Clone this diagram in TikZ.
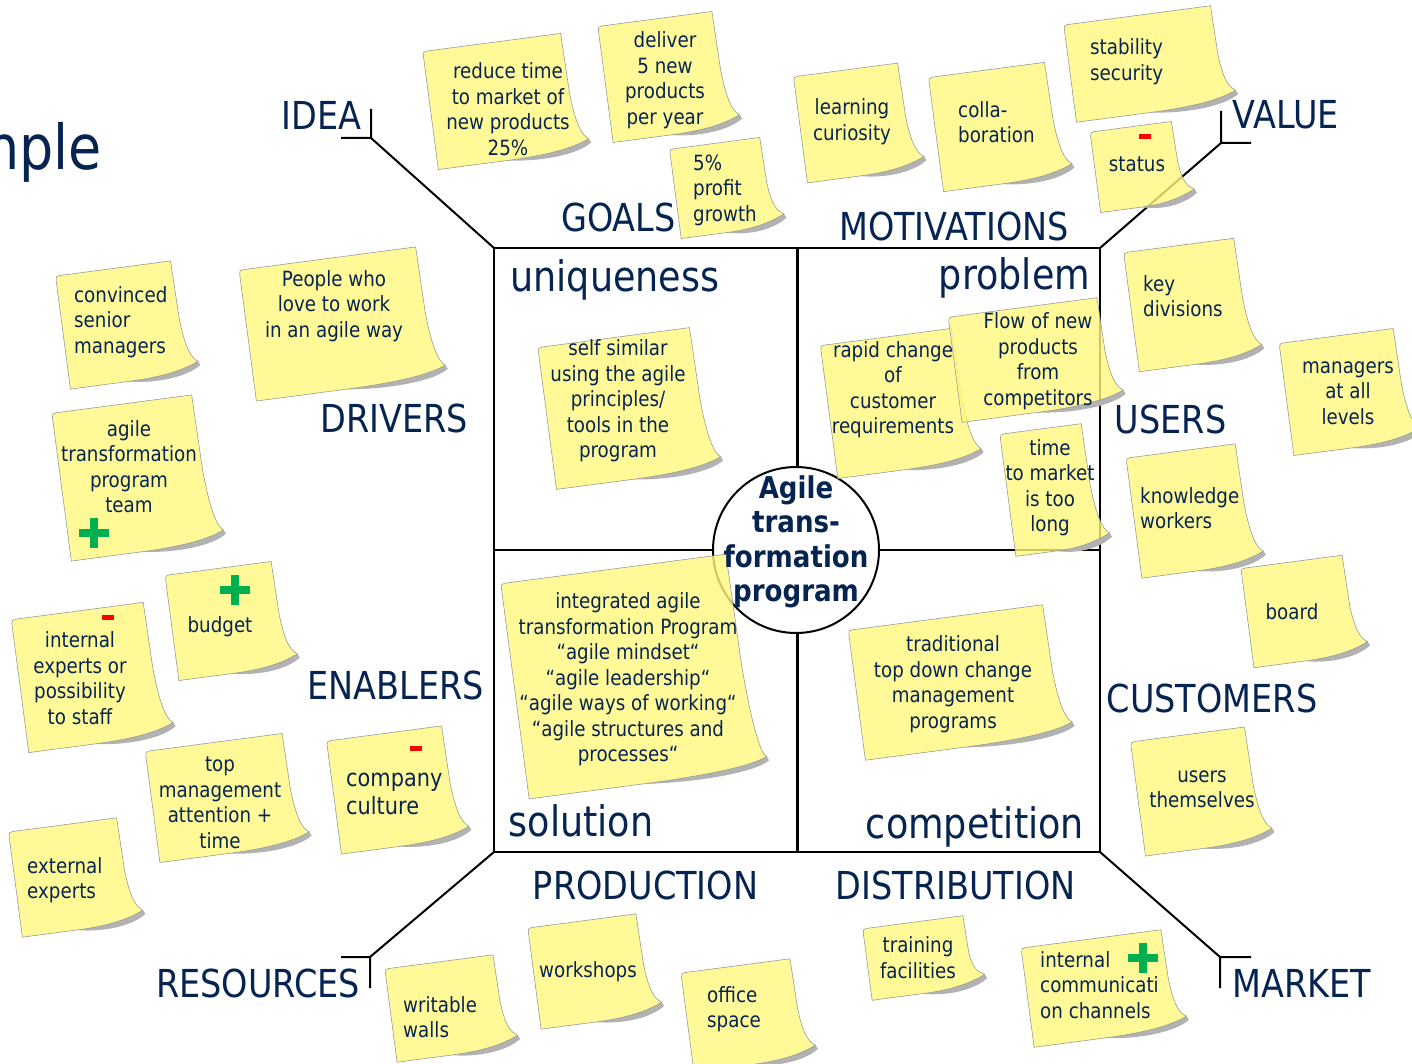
\documentclass[tikz,border=0pt]{standalone}
\usepackage{fontspec}
\setmainfont{DejaVu Sans}[FakeStretch=0.87]

\definecolor{ink}{RGB}{6,36,82}
\definecolor{postit}{RGB}{255,249,125}
\definecolor{curlgray}{RGB}{178,178,178}
\definecolor{okgreen}{RGB}{0,176,80}

% sticky note: centre x, centre y, width, height
\newcommand{\sticky}[4]{%
  \begin{scope}[shift={(#1,#2)}, rotate=7.5, shift={(-#3/2,-#4/2)}]
    \fill[fold] (#3+14,#4-11) .. controls (#3-6,#4-2) and (0.72*#3,#4) .. (0.5*#3,#4)
      .. controls (0.75*#3,#4+6) and (#3+2,#4+3) .. (#3+16,#4-7) -- cycle;
    \filldraw[paper] (0,4) .. controls (0,1) and (1,0) .. (4,0) -- (#3,0) -- (#3+1,0.5*#4)
      .. controls (#3+3,0.78*#4) and (#3+8,#4-15) .. (#3+14,#4-11)
      .. controls (#3-6,#4-2) and (0.72*#3,#4) .. (0.5*#3,#4) -- (0,#4) -- cycle;
  \end{scope}}
\newcommand{\plusmark}[2]{\draw[okgreen, line width=8] (#1-15,#2) -- (#1+15,#2) (#1,#2-15) -- (#1,#2+15);}
\newcommand{\minusmark}[2]{\fill[red] (#1-6,#2-2.5) rectangle (#1+6,#2+2.5);}

\begin{document}
\begin{tikzpicture}[
      x = 1pt, y = -1pt,
      frame/.style = {line width = 2, black},
      paper/.style = {fill = postit, fill opacity = .8, draw = black!40, line width = .6},
      fold/.style = {fill = curlgray},
      memo/.style = {text = ink, inner sep = 0, align = center, yshift = -3,
        font = \fontsize{21}{25.5}\selectfont},
      memol/.style = {memo, align = left, anchor = west},
      heading/.style = {text = ink, inner sep = 0, anchor = base,
        font = \fontsize{38.5}{40}\selectfont},
      field/.style = {heading, font = \fontsize{42}{44}\selectfont},
      hub/.style = {circle, draw, line width = 2, fill = white,
        minimum size = 166, inner sep = 0}
      ]
    \useasboundingbox (0,0) rectangle (1412,1064);
    \clip (0,0) rectangle (1412,1064);

    \node[anchor = base east, text = ink, inner sep = 0,
      font = \fontsize{62}{64}\selectfont] (title) at (102,170) {nple};

    % the twelve outer headings
    \node[heading] (idea) at (321.5,130) {IDEA};
    \node[heading] (value) at (1285.5,129) {VALUE};
    \node[heading] (goals) at (618.5,231.5) {GOALS};
    \node[heading] (motiv) at (954,240.5) {MOTIVATIONS};
    \node[heading] (drivers) at (394,432.5) {DRIVERS};
    \node[heading] (users) at (1170.5,433) {USERS};
    \node[heading] (enablers) at (396,699) {ENABLERS};
    \node[heading] (customers) at (1212,712.5) {CUSTOMERS};
    \node[heading] (production) at (645.5,899) {PRODUCTION};
    \node[heading] (distribution) at (955.5,899) {DISTRIBUTION};
    \node[heading] (resources) at (258,997) {RESOURCES};
    \node[heading] (market) at (1302,997) {MARKET};

    % the square and its corners
    \coordinate (nw) at (494,248);
    \coordinate (ne) at (1100,248);
    \coordinate (sw) at (494,852);
    \coordinate (se) at (1100,852);
    \coordinate (n) at (797,248);
    \coordinate (s) at (797,852);
    \coordinate (w) at (494,550);
    \coordinate (e) at (1100,550);
    \coordinate (ideac) at (371,138);
    \coordinate (valuec) at (1221,143);
    \coordinate (resc) at (370,957);
    \coordinate (marketc) at (1220,957);

    \draw[frame] (nw) rectangle (se);
    \draw[frame] (w) -- (e);
    \draw[frame, line width = 3] (n) -- (s);
    \draw[frame] (nw) -- (ideac) -- ++(-30,0) (ideac) -- ++(0,-29);
    \draw[frame] (ne) -- (valuec) -- ++(30,0) (valuec) -- ++(0,-32);
    \draw[frame] (sw) -- (resc) -- ++(-29,0) (resc) -- ++(0,31);
    \draw[frame] (se) -- (marketc) -- ++(31,0) (marketc) -- ++(0,31);

    \node[field] (uniq) at (615,291) {uniqueness};
    \node[field] (prob) at (1014.5,290) {problem};
    \node[field] (sol) at (581,836) {solution};
    \node[field] (comp) at (975,838) {competition};

    \node[hub] (hub) at (796,550) {};

    % goals
    \sticky{499.5}{101.5}{139}{119}
    \node[memo] (g1) at (508,106) {reduce time\\to market of\\new products\\25\%};
    \sticky{662.5}{77}{115}{117}
    \node[memo] (g2) at (665,77) {deliver\\5 new\\products\\per year};
    \sticky{720.5}{188}{91}{90}
    \node[memol] (g3) at (693,187) {5\%\\profit\\growth};

    % motivations
    \sticky{852.5}{123}{105}{107}
    \node[memo] (m1) at (852,118.5) {learning\\curiosity};
    \sticky{994}{127}{117}{115}
    \node[memol] (m2) at (958,119) {colla-\\boration};
    \sticky{1143.5}{64}{148}{98}
    \node[memol] (m3) at (1090,58.5) {stability\\security};
    \sticky{1136}{167}{82}{81}
    \node[memo] (m4) at (1137,161) {status};
    \minusmark{1145}{137}

    % drivers
    \sticky{120.5}{325}{116}{114}
    \node[memol] (d1) at (74,319) {convinced\\senior\\managers};
    \sticky{336}{324}{178}{132}
    \node[memo] (d2) at (334,303) {People who\\love to work\\in an agile way};
    \sticky{131.5}{478}{141}{149}
    \node[memo] (d3) at (129,463.5) {agile\\transformation\\program\\team};
    \plusmark{94}{533}

    % enablers
    \sticky{86}{677.5}{133}{134}
    \node[memo] (e1) at (80,675) {internal\\experts or\\possibility\\to staff};
    \minusmark{108}{617}
    \sticky{225}{621}{107}{106}
    \node[memo] (e2) at (220,624) {budget};
    \plusmark{234.5}{590}
    \sticky{221}{798}{138}{112}
    \node[memo] (e3) at (220,800) {top\\management\\attention +\\time};
    \sticky{391.5}{790}{116}{114}
    \node[memol, font = \fontsize{24}{28}\selectfont] (e4) at (346,791) {company\\culture};
    \minusmark{416}{748}

    % resources
    \sticky{69.5}{877.5}{109}{106}
    \node[memol] (r1) at (27,877) {external\\experts};
    \sticky{445}{1008.5}{109}{94}
    \node[memol] (r2) at (403,1014) {writable\\walls};

    % production
    \sticky{588.5}{971.5}{109}{102}
    \node[memo] (p1) at (588,968.5) {workshops};
    \sticky{742}{1015.5}{110}{100}
    \node[memol] (p2) at (707,1006) {office\\space};

    % distribution
    \sticky{917.5}{958}{101}{72}
    \node[memo] (t1) at (918,954.5) {training\\facilities};
    \sticky{1097.5}{988.5}{141}{100}
    \node[memol] (t2) at (1040,982) {internal\\communicati\\on channels};
    \plusmark{1143}{958}

    % the four fields
    \sticky{623}{408.5}{153}{143}
    \node[memo] (u1) at (618,398) {self similar\\using the agile\\principles/\\tools in the\\program};
    \sticky{894.5}{403.5}{132}{134}
    \node[memo] (q1) at (893,386.5) {rapid change\\of\\customer\\requirements};
    \sticky{1029.5}{360}{150}{106}
    \node[memo] (q2) at (1038,358) {Flow of new\\products\\from\\competitors};
    \sticky{1048.5}{490}{82}{123}
    \node[memo] (q3) at (1050,484.5) {time\\to market\\is too\\long};
    \sticky{627.5}{676.5}{227}{217}
    \node[memo] (s1) at (628,676.5) {integrated agile\\transformation Program\\“agile mindset“\\“agile leadership“\\“agile ways of working“\\“agile structures and\\processes“};
    \sticky{954}{682.5}{196}{131}
    \node[memo] (c1) at (953,681) {traditional\\top down change\\management\\programs};

    % users and customers
    \sticky{1186.5}{305}{111}{120}
    \node[memol] (k1) at (1143,293) {key\\divisions};
    \sticky{1343.5}{392}{115}{113}
    \node[memo] (k2) at (1348,390) {managers\\at all\\levels};
    \sticky{1188.5}{511}{110}{121}
    \node[memol] (k3) at (1140,505) {knowledge\\workers};
    \sticky{1298}{611.5}{102}{100}
    \node[memo] (k4) at (1292,608.5) {board};
    \sticky{1195}{791.5}{115}{115}
    \node[memo] (k5) at (1202,786.5) {users\\themselves};

    \node[text = ink, inner sep = 0, align = center,
      font = \bfseries\fontsize{30}{34.5}\selectfont] (hubtext) at (796,542)
      {Agile\\trans-\\formation\\program};
\end{tikzpicture}
\end{document}
